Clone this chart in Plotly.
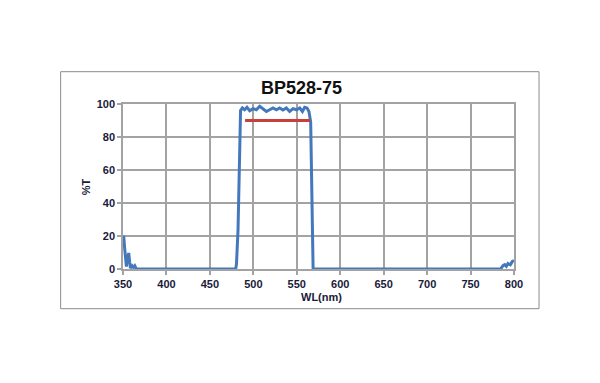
import plotly.graph_objects as go

# Measured transmission curve (wavelength in nm, %T)
wavelength = [350, 350.8, 352, 353.9, 355, 356.6, 357.7, 358.5, 360.4, 362, 363.5, 365.4,
              479.7, 480.6, 482.4, 483.2, 484.3, 485.3, 487.4, 490, 492.7, 495.8, 499.6,
              503.5, 507.3, 511.1, 515, 518.8, 522.6, 526.5, 530.3, 534.1, 538, 541.8,
              545.7, 549.6, 553.4, 556.5, 559.1, 561.8, 564, 566, 567.4, 568.8,
              784.7, 787.3, 789.3, 791.2, 793, 795.8, 798.1, 800]
transmission = [19.4, 20, 12, 1.5, 6, 9.7, 4, 0.6, 2, 1, 2, 0,
                0, 3, 24, 51, 83, 96, 97.6, 96.5, 98, 95.9, 97.2,
                96.5, 98.6, 97.2, 95.5, 96.5, 97.6, 96.5, 97.6, 96.4, 97.6, 95.5,
                97.2, 96.5, 97.6, 95.5, 98, 97.6, 95.5, 89, 48, 0,
                0, 2, 2.6, 1.6, 3.3, 2.6, 4.6, 5.2]

# Specification band
spec_wavelength = [490.5, 565.5]
spec_transmission = [90, 90]

x_ticks = [350, 400, 450, 500, 550, 600, 650, 700, 750, 800]
y_ticks = [0, 20, 40, 60, 80, 100]

title_text = "BP528-75"
x_title = "WL(nm)"
y_title = "%T"

BLUE = "#4478bd"
RED = "#c8403a"
GRID = "#a3a3a3"
TXT = "#1a1a3a"
FONT = "Liberation Sans"

fig = go.Figure()
fig.add_trace(go.Scatter(x=wavelength, y=transmission, mode="lines",
                         line=dict(color=BLUE, width=3), showlegend=False,
                         hoverinfo="skip"))
fig.add_trace(go.Scatter(x=spec_wavelength, y=spec_transmission, mode="lines",
                         line=dict(color=RED, width=3), showlegend=False,
                         hoverinfo="skip"))

# page body has an 8px margin; work in window pixels and convert
OFF = 8
W, H = 592, 375
L = 123.3 - OFF
Rpx = 514 - OFF
Tp = 104.3 - OFF
Bp = 269.3 - OFF
pw, ph = Rpx - L, Bp - Tp

def px_x(px):
    return (px - OFF - L) / pw

def px_y(py):
    return (Bp - (py - OFF)) / ph

fig.update_layout(
    width=W, height=H,
    margin=dict(l=L, r=W - Rpx, t=Tp, b=H - Bp, pad=0),
    paper_bgcolor="white", plot_bgcolor="white",
    font=dict(family=FONT, color=TXT),
    xaxis=dict(range=[350, 800], tickvals=x_ticks, ticktext=[str(v) for v in x_ticks],
               showgrid=True, gridcolor=GRID, gridwidth=1.5,
               showline=True, linecolor=GRID, linewidth=1.5, mirror=True,
               ticks="outside", ticklen=4, tickcolor=GRID, tickwidth=1.5,
               zeroline=False,
               tickfont=dict(family=FONT, size=11, color=TXT, weight="bold")),
    yaxis=dict(range=[0, 100], tickvals=y_ticks, ticktext=[str(v) for v in y_ticks],
               showgrid=True, gridcolor=GRID, gridwidth=1.5,
               showline=True, linecolor=GRID, linewidth=1.5, mirror=True,
               ticks="outside", ticklen=4, tickcolor=GRID, tickwidth=1.5,
               zeroline=False,
               tickfont=dict(family=FONT, size=11, color=TXT, weight="bold")),
    shapes=[dict(type="rect", xref="paper", yref="paper",
                 x0=px_x(61), x1=px_x(539), y0=px_y(309), y1=px_y(72),
                 line=dict(color="#8c8c8c", width=1), fillcolor="rgba(0,0,0,0)",
                 layer="below")],
    annotations=[
        dict(text=f"<b>{title_text}</b>", xref="paper", yref="paper",
             x=px_x(302), y=px_y(88), xanchor="center", yanchor="middle",
             showarrow=False, font=dict(family=FONT, size=18, color="#111111")),
        dict(text=f"<b>{x_title}</b>", xref="paper", yref="paper",
             x=px_x(322), y=px_y(297), xanchor="center", yanchor="middle",
             showarrow=False, font=dict(family=FONT, size=11, color=TXT)),
        dict(text=f"<b>{y_title}</b>", xref="paper", yref="paper",
             x=px_x(86), y=px_y(187), xanchor="center", yanchor="middle",
             textangle=-90, showarrow=False,
             font=dict(family=FONT, size=11, color=TXT)),
    ],
)

fig.write_html("out.html")
